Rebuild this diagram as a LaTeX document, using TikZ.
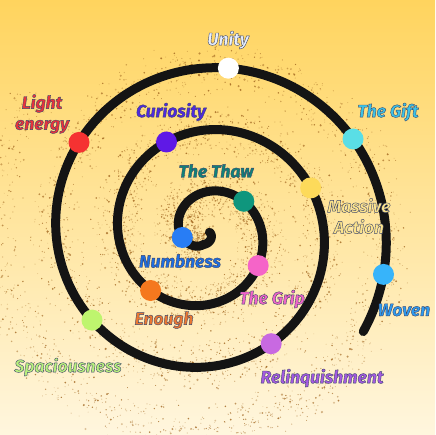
\documentclass[tikz,border=0pt]{standalone}
\usepackage{fontspec}
\newfontfamily\lab{Fira Sans Bold Italic}[FakeBold=2.3]
\newcommand\outl{\special{pdf:literal direct 0.24 0.28 0.42 RG}}
\definecolor{bgtop}{RGB}{255,212,94}
\definecolor{bgbot}{RGB}{255,246,222}
\definecolor{speck}{RGB}{160,100,30}
\definecolor{dUnity}{RGB}{255,255,255}\definecolor{tUnity}{RGB}{232,240,255}
\definecolor{dLight}{RGB}{245,50,50}\definecolor{tLight}{RGB}{232,50,60}
\definecolor{dCur}{RGB}{95,25,230}\definecolor{tCur}{RGB}{80,40,225}
\definecolor{dGift}{RGB}{90,222,230}\definecolor{tGift}{RGB}{60,195,230}
\definecolor{dThaw}{RGB}{15,150,125}\definecolor{tThaw}{RGB}{15,130,120}
\definecolor{dMass}{RGB}{253,218,90}\definecolor{tMass}{RGB}{253,228,140}
\definecolor{dNumb}{RGB}{40,125,245}\definecolor{tNumb}{RGB}{30,110,225}
\definecolor{dGrip}{RGB}{245,100,200}\definecolor{tGrip}{RGB}{240,100,200}
\definecolor{dWov}{RGB}{55,180,250}\definecolor{tWov}{RGB}{45,155,240}
\definecolor{dEno}{RGB}{245,120,30}\definecolor{tEno}{RGB}{235,120,50}
\definecolor{dSpa}{RGB}{190,245,110}\definecolor{tSpa}{RGB}{185,240,125}
\definecolor{dRel}{RGB}{200,105,225}\definecolor{tRel}{RGB}{165,90,225}
\tikzset{
  spiralline/.style={line width=9pt, line cap=round, draw={rgb,255:red,20;green,20;blue,20}},
  dot/.style={circle, minimum size=21pt, inner sep=0pt},
  lbl/.style={font=\lab\fontsize{17.5}{21}\selectfont, align=center, inner sep=0pt},
}
\pgfmathsetseed{12}
\begin{document}
\begin{tikzpicture}[x=1pt,y=-1pt]
\useasboundingbox (0,0) rectangle (435,435);
\shade[top color=bgtop, bottom color=bgbot] (0,0) rectangle (435,435);
\begin{scope}
\clip (0,0) rectangle (435,435);
\foreach \i in {1,...,5000}{
  \pgfmathsetmacro\ph{rnd*1200-80}
  \pgfmathsetmacro\rr{25.5+0.17222*\ph+(rnd+rnd-1)*29}
  \pgfmathsetmacro\sz{0.4+0.9*rnd*rnd}
  \pgfmathsetmacro\op{0.35+0.15*int(rnd*4)}
  \fill[speck, opacity=\op] ({205.5-\rr*cos(\ph)},{233-\rr*sin(\ph)}) circle (\sz);
}
\end{scope}
\draw[spiralline] plot[domain=-190:932, samples=500, smooth, variable=\t]
  ({205.5-max(25.5+0.17222*\t,17.3+0.07*\t)*cos(\t)},{233-max(25.5+0.17222*\t,17.3+0.07*\t)*sin(\t)});
% dots
\node[dot, fill=dNumb] (numb) at (182.3,237.5) {};
\node[dot, fill=dThaw] (thaw) at (243.8,201.3) {};
\node[dot, fill=dGrip] (grip) at (258.2,265.6) {};
\node[dot, fill=dEno] (eno) at (150.6,290.5) {};
\node[dot, fill=dCur] (cur) at (166.5,142.0) {};
\node[dot, fill=dMass] (mass) at (310.7,187.9) {};
\node[dot, fill=dRel] (rel) at (271.2,343.7) {};
\node[dot, fill=dSpa] (spa) at (92.0,320.1) {};
\node[dot, fill=dLight] (light) at (79.0,142.4) {};
\node[dot, fill=dUnity] (unity) at (228.4,68.2) {};
\node[dot, fill=dGift] (gift) at (353.0,139.0) {};
\node[dot, fill=dWov] (wov) at (383.5,274.4) {};
% labels
\node[lbl, text=tUnity] (unityL) at (228,40) {\outl Unity};
\node[lbl, text=tLight] (lightL) at (42,114) {\outl Light\\\outl energy};
\node[lbl, text=tCur] (curL) at (171,112) {\outl Curiosity};
\node[lbl, text=tGift] (giftL) at (388,112) {\outl The Gift};
\node[lbl, text=tThaw] (thawL) at (216,171) {\outl The Thaw};
\node[lbl, text=tMass] (massL) at (359,216) {\outl Massive\\\outl Action};
\node[lbl, text=tNumb] (numbL) at (180,261) {\outl Numbness};
\node[lbl, text=tGrip] (gripL) at (272,299) {\outl The Grip};
\node[lbl, text=tWov] (wovL) at (404,310) {\outl Woven};
\node[lbl, text=tEno] (enoL) at (164,320) {\outl Enough};
\node[lbl, text=tSpa] (spaL) at (68,367) {\outl Spaciousness};
\node[lbl, text=tRel] (relL) at (322,378) {\outl Relinquishment};
\end{tikzpicture}
\end{document}
